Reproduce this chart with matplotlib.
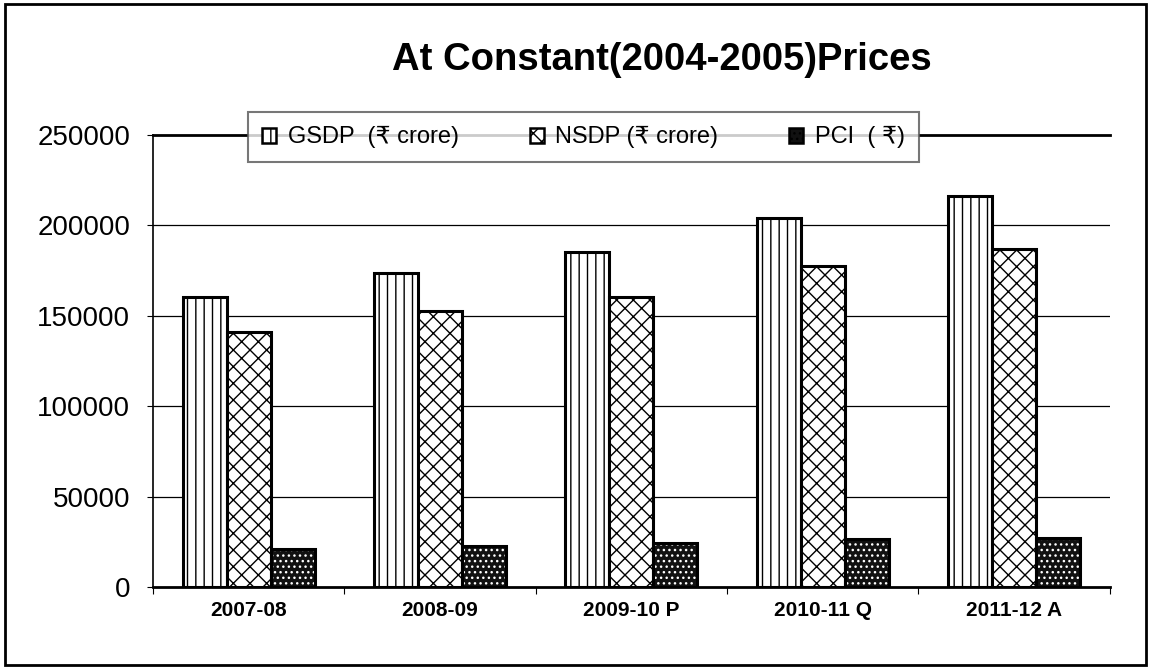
import matplotlib.pyplot as plt
from matplotlib.patches import Patch, Rectangle
import numpy as np

years = ["2007-08", "2008-09", "2009-10 P", "2010-11 Q", "2011-12 A"]
gsdp = [160300, 173600, 185200, 204000, 216000]
nsdp = [141000, 152500, 160300, 177300, 187000]
pci = [21000, 22800, 24400, 26700, 27000]
yticks = [0, 50000, 100000, 150000, 200000, 250000]
labels = ["GSDP  (\u20b9 crore)", "NSDP (\u20b9 crore)", "PCI  ( \u20b9)"]

plt.rcParams["font.family"] = ["Liberation Sans", "DejaVu Sans"]

fig = plt.figure(figsize=(11.51, 6.69), dpi=100)
ax = fig.add_axes([0.133, 0.1226, 0.831, 0.6756])

x = np.arange(len(years))
w = 0.23

ax.bar(x - w, gsdp, w, color="white", edgecolor="black", hatch="||", linewidth=2.2, zorder=3)
ax.bar(x, nsdp, w, color="white", edgecolor="black", hatch="xx", linewidth=2.2, zorder=3)
# PCI: dark fill with white dots, then black outline on top
ax.bar(x + w, pci, w, color="#111111", edgecolor="white", hatch="...", linewidth=0, zorder=3)
ax.bar(x + w, pci, w, fill=False, edgecolor="black", linewidth=2.2, zorder=4)

ax.set_ylim(0, 250000)
ax.set_xlim(-0.5, len(years) - 0.5)
ax.set_yticks(yticks)
ax.set_yticklabels([str(v) for v in yticks], fontsize=20)
for v in yticks[1:-1]:
    ax.axhline(v, color="black", linewidth=0.9, zorder=1)
ax.axhline(250000, color="black", linewidth=2, zorder=1, clip_on=False)

ax.set_xticks(np.arange(len(years) + 1) - 0.5)
ax.set_xticklabels([])
ax.set_xticks(x, minor=True)
ax.set_xticklabels(years, minor=True, fontsize=15, fontweight="bold")
ax.tick_params(axis="x", which="minor", length=0, pad=10)
ax.tick_params(axis="x", which="major", length=5, direction="out")
ax.tick_params(axis="y", length=4.5, direction="out", pad=12)

for s in ["top", "right"]:
    ax.spines[s].set_visible(False)
ax.spines["left"].set_linewidth(1.2)
ax.spines["bottom"].set_linewidth(2)

handles = [
    Patch(facecolor="white", edgecolor="black", hatch="||", linewidth=1.8),
    Patch(facecolor="white", edgecolor="black", hatch="xx", linewidth=1.8),
    Patch(facecolor="#111111", edgecolor="black", hatch="...", linewidth=1.8),
]
leg = ax.legend(handles, labels, ncol=3, loc="center", bbox_to_anchor=(0.45, 0.995),
                fontsize=17, frameon=True, fancybox=False, edgecolor="#555555",
                handlelength=0.6, handleheight=0.6, handletextpad=0.5,
                columnspacing=3.0, borderpad=0.6)
leg.get_frame().set_linewidth(1.5)
leg.set_zorder(5)

fig.text(0.575, 0.91, "At Constant(2004-2005)Prices", ha="center", va="center",
         fontsize=27.5, fontweight="bold")

fig.patches.append(Rectangle((0.004, 0.006), 0.992, 0.988, transform=fig.transFigure,
                             fill=False, edgecolor="black", linewidth=2))

fig.savefig("out.png", dpi=100)
